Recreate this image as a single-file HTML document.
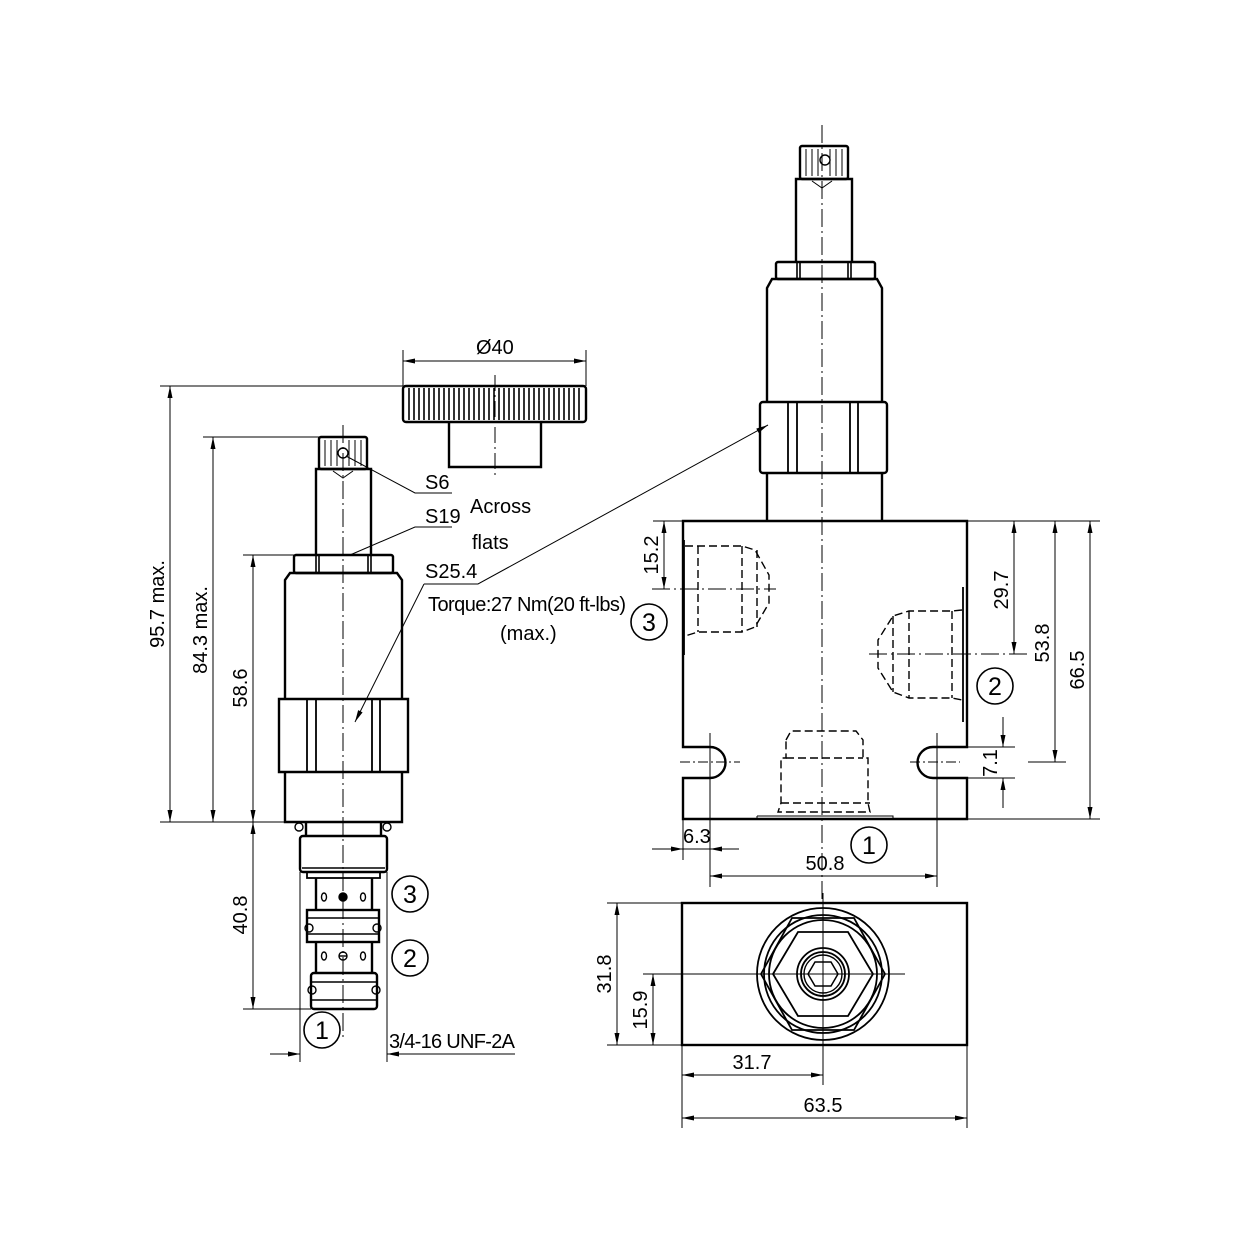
<!DOCTYPE html>
<html><head><meta charset="utf-8"><style>
html,body{margin:0;padding:0;background:#fff}
svg{display:block}
text{font-family:"Liberation Sans",sans-serif;font-size:20px;fill:#000}
.n{font-size:25px}
</style></head><body>
<svg width="1260" height="1243" viewBox="0 0 1260 1243" xmlns="http://www.w3.org/2000/svg">
<defs>
<marker id="a" viewBox="0 0 12 6" refX="12" refY="3" markerWidth="13" markerHeight="6" orient="auto-start-reverse" markerUnits="userSpaceOnUse"><path d="M0,0.5 L12,3 L0,5.5z" fill="#000"/></marker>
</defs>
<g fill="none" stroke="#000" stroke-width="1.4">
<!-- ===== LEFT CARTRIDGE ===== -->
<line x1="343" y1="425" x2="343" y2="1040" stroke-dasharray="18,4,2,4" stroke-width="1"/>
<rect x="403" y="386" width="183" height="36" rx="3" stroke-width="2.4"/>
<path d="M409 388V420M414 388V420M419 388V420M424 388V420M429 388V420M434 388V420M439 388V420M444 388V420M449 388V420M454 388V420M459 388V420M464 388V420M469 388V420M474 388V420M479 388V420M484 388V420M489 388V420M494 388V420M499 388V420M504 388V420M509 388V420M514 388V420M519 388V420M524 388V420M529 388V420M534 388V420M539 388V420M544 388V420M549 388V420M554 388V420M559 388V420M564 388V420M569 388V420M574 388V420M579 388V420" stroke-width="1.6"/>
<path d="M449 422V467H541V422" stroke-width="2.4"/>
<line x1="495" y1="375" x2="495" y2="475" stroke-dasharray="16,4,2,4" stroke-width="1"/>
<rect x="319" y="437" width="48" height="32" rx="2" stroke-width="2.4"/>
<path d="M325 440V466M331 440V466M337 440V466M349 440V466M355 440V466M361 440V466" stroke-width="1"/>
<circle cx="343" cy="453" r="5"/>
<path d="M316 555V469H371V555" stroke-width="2.4"/>
<path d="M333 471L343 478L353 471" stroke-width="1"/>
<rect x="294" y="555" width="99" height="18" rx="2" stroke-width="2.4"/>
<path d="M316 555V573M319 555V573M368 555V573M371 555V573" stroke-width="1.6"/>
<path d="M285 699V580L290 573H397L402 580V699" stroke-width="2.4"/>
<path d="M279 699H408V772H279Z" stroke-width="2.4"/>
<path d="M307 699V772M316 699V772M372 699V772M380 699V772" stroke-width="1.8"/>
<path d="M285 772V822H402V772" stroke-width="2.4"/>
<circle cx="299" cy="827" r="4"/><circle cx="387" cy="827" r="4"/>
<path d="M306 822V836M381 822V836" stroke-width="2.4"/>
<rect x="300" y="836" width="87" height="36" rx="3" stroke-width="2.4"/>
<line x1="302" y1="868" x2="385" y2="868"/>
<rect x="307" y="872" width="73" height="6" stroke-width="1.8"/>
<path d="M316 878V910M372 878V910" stroke-width="2.4"/>
<ellipse cx="324" cy="897" rx="2.5" ry="4"/><circle cx="343" cy="897" r="4" fill="#000"/><ellipse cx="363" cy="897" rx="2.5" ry="4"/>
<rect x="307" y="910" width="72" height="32" stroke-width="2.4"/>
<path d="M307 918H379M307 934H379"/>
<circle cx="309" cy="928" r="4"/><circle cx="377" cy="928" r="4"/>
<path d="M316 942V973M372 942V973" stroke-width="2.4"/>
<ellipse cx="324" cy="956" rx="2.5" ry="4"/><circle cx="343" cy="956" r="4"/><line x1="339" y1="956" x2="347" y2="956"/><ellipse cx="363" cy="956" rx="2.5" ry="4"/>
<rect x="311" y="973" width="66" height="36" rx="3" stroke-width="2.4"/>
<path d="M311 982H377M311 1000H377"/>
<circle cx="312" cy="990" r="4"/><circle cx="376" cy="990" r="4"/>
<circle cx="410" cy="894" r="18" stroke-width="1.6"/><circle cx="410" cy="958" r="18" stroke-width="1.6"/><circle cx="322" cy="1030" r="18" stroke-width="1.6"/>
<line x1="160" y1="386" x2="403" y2="386" stroke-width="1"/>
<line x1="170" y1="386" x2="170" y2="822" marker-start="url(#a)" marker-end="url(#a)" stroke-width="1"/>
<line x1="203" y1="437" x2="319" y2="437" stroke-width="1"/>
<line x1="213" y1="437" x2="213" y2="822" marker-start="url(#a)" marker-end="url(#a)" stroke-width="1"/>
<line x1="243" y1="555" x2="294" y2="555" stroke-width="1"/>
<line x1="253" y1="555" x2="253" y2="822" marker-start="url(#a)" marker-end="url(#a)" stroke-width="1"/>
<line x1="160" y1="822" x2="285" y2="822" stroke-width="1"/>
<line x1="253" y1="822" x2="253" y2="1009" marker-start="url(#a)" marker-end="url(#a)" stroke-width="1"/>
<line x1="243" y1="1009" x2="311" y2="1009" stroke-width="1"/>
<line x1="403" y1="350" x2="403" y2="386" stroke-width="1"/><line x1="586" y1="350" x2="586" y2="386" stroke-width="1"/>
<line x1="403" y1="361" x2="586" y2="361" marker-start="url(#a)" marker-end="url(#a)" stroke-width="1"/>
<line x1="300" y1="872" x2="300" y2="1062" stroke-width="1"/><line x1="387" y1="872" x2="387" y2="1062" stroke-width="1"/>
<line x1="270" y1="1054" x2="300" y2="1054" marker-end="url(#a)" stroke-width="1"/>
<line x1="415" y1="1054" x2="387" y2="1054" marker-end="url(#a)" stroke-width="1"/>
<line x1="387" y1="1054" x2="515" y2="1054" stroke-width="1"/>
<polyline points="346,456 415,493 452,493" stroke-width="1"/>
<polyline points="350,555 415,527 452,527" stroke-width="1"/>
<polyline points="424,584 478,584 768,425" stroke-width="1" marker-end="url(#a)"/>
<line x1="424" y1="584" x2="355" y2="722" stroke-width="1" marker-end="url(#a)"/>
<!-- ===== RIGHT VIEW ===== -->
<line x1="822" y1="125" x2="822" y2="900" stroke-dasharray="18,4,2,4" stroke-width="1"/>
<rect x="800" y="146" width="48" height="33" rx="2" stroke-width="2.4"/>
<path d="M806 149V176M812 149V176M818 149V176M830 149V176M836 149V176M842 149V176" stroke-width="1"/>
<circle cx="825" cy="160" r="5"/>
<path d="M796 262V179H852V262" stroke-width="2.4"/>
<path d="M812 181L822 188L832 181" stroke-width="1"/>
<rect x="776" y="262" width="99" height="17" rx="2" stroke-width="2.4"/>
<path d="M797 262V279M800 262V279M848 262V279M851 262V279" stroke-width="1.6"/>
<path d="M767 402V288L772 279H877L882 288V402" stroke-width="2.4"/>
<rect x="760" y="402" width="127" height="71" rx="3" stroke-width="2.4"/>
<path d="M788 402V473M797 402V473M850 402V473M858 402V473" stroke-width="1.8"/>
<path d="M767 473V521M882 473V521" stroke-width="2.4"/>
<path d="M683 521H967V747H933A15.5 15.5 0 0 0 933 778H967V819H683V778H710A15.5 15.5 0 0 0 710 747H683Z" stroke-width="2.4"/>
<line x1="684" y1="540" x2="684" y2="655" stroke-width="1.8"/>
<line x1="963" y1="587" x2="963" y2="722" stroke-width="1.8"/>
<g stroke-dasharray="8,4" stroke-width="1.4">
<path d="M685 546L698 546H742L755 550L769 575V603L755 627L742 632H698L685 636"/>
<path d="M698 546V632M742 546V632M757 550V627"/>
<path d="M962 610L952 611H909L893 616L878 640V668L893 692L909 698H952L962 700"/>
<path d="M952 611V698M909 611V698M893 616V692"/>
<path d="M786 740L791 731H856L863 740V758H868V803L870 812H778L781 803V758H786Z"/>
<path d="M786 758H863M781 803H870"/>
</g>
<path d="M757 816H893V819M757 816V819" stroke-width="1"/>
<line x1="652" y1="589" x2="776" y2="589" stroke-dasharray="18,4,2,4" stroke-width="1"/>
<line x1="869" y1="654" x2="1028" y2="654" stroke-dasharray="18,4,2,4" stroke-width="1"/>
<line x1="680" y1="762" x2="740" y2="762" stroke-dasharray="10,3,2,3" stroke-width="1"/>
<line x1="910" y1="762" x2="960" y2="762" stroke-dasharray="10,3,2,3" stroke-width="1"/>
<line x1="710" y1="733" x2="710" y2="887" stroke-width="1"/>
<line x1="937" y1="733" x2="937" y2="887" stroke-width="1"/>
<line x1="683" y1="819" x2="683" y2="860" stroke-width="1"/>
<circle cx="649" cy="622" r="18" stroke-width="1.6"/><circle cx="995" cy="686" r="18" stroke-width="1.6"/><circle cx="869" cy="845" r="18" stroke-width="1.6"/>
<line x1="653" y1="521" x2="683" y2="521" stroke-width="1"/>
<line x1="664" y1="521" x2="664" y2="589" marker-start="url(#a)" marker-end="url(#a)" stroke-width="1"/>
<line x1="967" y1="521" x2="1100" y2="521" stroke-width="1"/>
<line x1="967" y1="819" x2="1100" y2="819" stroke-width="1"/>
<line x1="1014" y1="521" x2="1014" y2="654" marker-start="url(#a)" marker-end="url(#a)" stroke-width="1"/>
<line x1="1028" y1="762" x2="1066" y2="762" stroke-width="1"/>
<line x1="1055" y1="521" x2="1055" y2="762" marker-start="url(#a)" marker-end="url(#a)" stroke-width="1"/>
<line x1="1090" y1="521" x2="1090" y2="819" marker-start="url(#a)" marker-end="url(#a)" stroke-width="1"/>
<line x1="967" y1="747" x2="1015" y2="747" stroke-width="1"/><line x1="967" y1="778" x2="1015" y2="778" stroke-width="1"/>
<line x1="1003" y1="717" x2="1003" y2="747" marker-end="url(#a)" stroke-width="1"/>
<line x1="1003" y1="808" x2="1003" y2="778" marker-end="url(#a)" stroke-width="1"/>
<line x1="652" y1="849" x2="683" y2="849" marker-end="url(#a)" stroke-width="1"/>
<line x1="739" y1="849" x2="710" y2="849" marker-end="url(#a)" stroke-width="1"/>
<line x1="683" y1="849" x2="710" y2="849" stroke-width="1"/>
<line x1="710" y1="876" x2="937" y2="876" marker-start="url(#a)" marker-end="url(#a)" stroke-width="1"/>
<!-- ===== BOTTOM VIEW ===== -->
<rect x="682" y="903" width="285" height="142" stroke-width="2.4"/>
<line x1="823" y1="893" x2="823" y2="1085" stroke-width="1"/>
<line x1="643" y1="974" x2="905" y2="974" stroke-width="1"/>
<circle cx="823" cy="974" r="66" stroke-width="1.8"/>
<polygon points="761,974 792,918 854,918 885,974 854,1030 792,1030" stroke-width="1.8"/>
<circle cx="823" cy="974" r="59" stroke-width="1.8"/>
<circle cx="823" cy="974" r="54" stroke-width="1.8"/>
<polygon points="773,974 798,932 848,932 873,974 848,1016 798,1016" stroke-width="1.8"/>
<circle cx="823" cy="974" r="26" stroke-width="1.8"/>
<circle cx="823" cy="974" r="22" stroke-width="1.8"/>
<circle cx="823" cy="974" r="19" stroke-width="1.4"/>
<polygon points="808,974 815,962 831,962 838,974 831,986 815,986" stroke-width="1.5"/>
<line x1="607" y1="903" x2="682" y2="903" stroke-width="1"/>
<line x1="607" y1="1045" x2="682" y2="1045" stroke-width="1"/>
<line x1="617" y1="903" x2="617" y2="1045" marker-start="url(#a)" marker-end="url(#a)" stroke-width="1"/>
<line x1="653" y1="974" x2="653" y2="1045" marker-start="url(#a)" marker-end="url(#a)" stroke-width="1"/>
<line x1="682" y1="1045" x2="682" y2="1128" stroke-width="1"/>
<line x1="967" y1="1045" x2="967" y2="1128" stroke-width="1"/>
<line x1="682" y1="1075" x2="823" y2="1075" marker-start="url(#a)" marker-end="url(#a)" stroke-width="1"/>
<line x1="682" y1="1118" x2="967" y2="1118" marker-start="url(#a)" marker-end="url(#a)" stroke-width="1"/>
</g>
<g>
<text x="476" y="354">Ø40</text>
<text x="425" y="489">S6</text>
<text x="470" y="513">Across</text>
<text x="425" y="523">S19</text>
<text x="472" y="549">flats</text>
<text x="425" y="578">S25.4</text>
<text x="428" y="611" textLength="198">Torque:27 Nm(20 ft-lbs)</text>
<text x="500" y="640">(max.)</text>
<text x="389" y="1048" textLength="126">3/4-16 UNF-2A</text>
<text transform="translate(164,604) rotate(-90)" text-anchor="middle">95.7 max.</text>
<text transform="translate(207,630) rotate(-90)" text-anchor="middle">84.3 max.</text>
<text transform="translate(247,688) rotate(-90)" text-anchor="middle">58.6</text>
<text transform="translate(247,915) rotate(-90)" text-anchor="middle">40.8</text>
<text class="n" x="410" y="903" text-anchor="middle">3</text>
<text class="n" x="410" y="967" text-anchor="middle">2</text>
<text class="n" x="322" y="1039" text-anchor="middle">1</text>
<text class="n" x="649" y="631" text-anchor="middle">3</text>
<text class="n" x="995" y="695" text-anchor="middle">2</text>
<text class="n" x="869" y="854" text-anchor="middle">1</text>
<text transform="translate(658,555) rotate(-90)" text-anchor="middle">15.2</text>
<text transform="translate(1008,590) rotate(-90)" text-anchor="middle">29.7</text>
<text transform="translate(1049,643) rotate(-90)" text-anchor="middle">53.8</text>
<text transform="translate(1084,670) rotate(-90)" text-anchor="middle">66.5</text>
<text transform="translate(997,763) rotate(-90)" text-anchor="middle">7.1</text>
<text x="683" y="843">6.3</text>
<text x="825" y="870" text-anchor="middle">50.8</text>
<text transform="translate(611,974) rotate(-90)" text-anchor="middle">31.8</text>
<text transform="translate(647,1010) rotate(-90)" text-anchor="middle">15.9</text>
<text x="752" y="1069" text-anchor="middle">31.7</text>
<text x="823" y="1112" text-anchor="middle">63.5</text>
</g>
</svg>
</body></html>
